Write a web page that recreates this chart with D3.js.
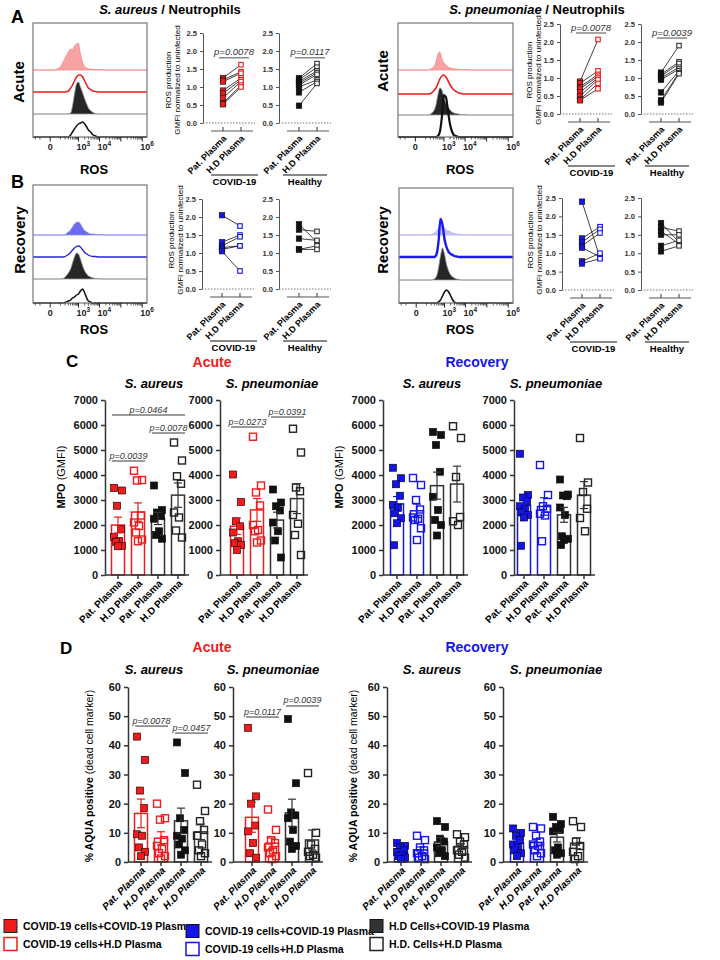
<!DOCTYPE html>
<html><head><meta charset="utf-8">
<script src="https://cdn.jsdelivr.net/npm/d3@7"></script>
<style>body{margin:0;background:#fff}svg{display:block}</style>
</head><body><svg id="chart" width="720" height="960"></svg>
<script>
// ---------------- DATA ----------------
const rosCats = ["Pat. Plasma", "H.D Plasma"];
const rosTicks = [0, 0.5, 1, 1.5, 2, 2.5];
const groupNames = ["COVID-19", "Healthy"];
const barKeys = ["cc", "ch", "hc", "hh"];
const barLabels = ["Pat. Plasma", "H.D Plasma", "Pat. Plasma", "H.D Plasma"];
const mpoTicks = [0, 1000, 2000, 3000, 4000, 5000, 6000, 7000];
const aquaTicks = [0, 10, 20, 30, 40, 50, 60];
const histTicks = [0, 1e3, 1e4, 1e5, 1e6];
const histTickText = ["0", "10^3", "10^4", "", "10^6"];
const histDomain = [-268, 1.67e6];
const histBins = [30, 60, 100, 150, 200, 300, 400, 500, 630, 800, 1000, 1250, 1600, 2000, 2500, 3000, 3800, 5000, 6600, 9000, 12000, 20000];

// histogram counts (top lane -> bottom lane)
const histAcuteAureus = [
  [0,2,6,16,24,36,42,40,48,52,54,32,14,6,4,2,2,1,1,1,1,0],
  [0,0,0,0,0,2,8,14,22,30,34,34,30,22,14,8,5,2,1,0,0,0],
  [0,0,0,0,0,0,2,16,40,60,64,54,42,30,20,12,7,3,1,0,0,0],
  [0,0,0,0,0,0,4,10,16,22,26,28,30,26,20,14,10,4,2,0,0,0]];
const histAcutePneumo = [
  [0,0,0,0,2,6,16,32,36,22,14,10,6,4,3,2,2,1,1,1,1,0],
  [0,0,0,0,1,6,12,20,30,36,38,34,26,18,12,8,5,2,1,0,0,0],
  [0,0,0,0,2,8,20,40,54,50,36,24,16,10,6,4,3,2,1,1,0,0],
  [0,0,0,0,0,0,0,2,10,40,84,80,50,24,10,4,2,0,0,0,0,0]];
const histRecAureus = [
  [0,0,0,0,1,6,10,16,22,25,26,22,14,9,6,4,2,2,1,1,1,0],
  [0,0,0,0,1,5,9,14,18,21,22,20,14,9,6,4,2,1,1,0,0,0],
  [0,0,0,1,4,12,20,32,44,52,50,40,26,16,10,6,4,2,1,1,0,0],
  [0,0,0,0,1,4,6,10,12,16,18,24,28,20,10,4,2,0,0,0,0,0]];
const histRecPneumo = [
  [0,0,0,0,1,4,8,14,20,18,14,10,8,6,4,3,2,1,1,0,0,0],
  [0,0,0,0,0,0,6,30,76,64,36,20,10,6,4,2,1,0,0,0,0,0],
  [0,0,0,0,0,2,8,24,48,64,52,32,18,10,6,4,2,1,0,0,0,0],
  [0,0,0,0,0,0,0,2,6,14,22,26,22,14,6,2,0,0,0,0,0,0]];

// ROS paired values [Pat. Plasma, H.D Plasma]
const rosAcuteAureusCovid = [[1.25,1.62],[1.2,1.42],[1.15,1.38],[0.9,1.25],[0.82,1.2],[0.7,1.15],[0.55,1.05],[0.52,1.0]];
const rosAcuteAureusHealthy = [[1.25,1.65],[1.2,1.55],[1.15,1.45],[1.1,1.4],[1.05,1.35],[1.0,1.2],[0.85,1.15],[0.48,1.1]];
const rosAcutePneumoCovid = [[0.9,2.07],[0.85,1.2],[0.75,1.1],[0.7,1.05],[0.6,1.0],[0.5,0.95],[0.4,0.85],[0.38,0.7]];
const rosAcutePneumoHealthy = [[1.15,1.9],[1.1,1.45],[1.05,1.4],[1.0,1.3],[0.95,1.25],[0.6,1.2],[0.38,1.15],[0.32,1.12]];
const rosRecAureusCovid = [[2.05,1.75],[1.3,1.5],[1.2,1.45],[1.15,1.2],[1.1,1.2],[1.05,0.5]];
const rosRecAureusHealthy = [[1.8,1.3],[1.65,1.6],[1.4,1.35],[1.1,1.2],[1.1,1.1]];
const rosRecPneumoCovid = [[2.4,0.88],[1.4,1.72],[1.3,1.65],[1.2,1.55],[1.15,0.9],[0.78,1.0],[0.72,0.85]];
const rosRecPneumoHealthy = [[1.82,1.3],[1.7,1.6],[1.6,1.25],[1.5,1.5],[1.2,1.35],[1.05,1.2]];

// MPO (GMFI) per group: COVID cells+COVID plasma, COVID cells+HD plasma, HD cells+COVID plasma, HD cells+HD plasma
const mpoAcuteAureus = [
  [3480,3380,2770,1830,1520,1360,1330,1170,1150],
  [4170,3800,3780,2380,2100,1960,1700,1420,1350],
  [3580,2600,2500,2350,2250,1750,1600,1450],
  [5300,4580,3950,3650,2500,2300,1780,1500]];
const mpoAcutePneumo = [
  [4020,2920,2150,1950,1700,1350,1270,1200,1000],
  [5530,3580,3300,2780,2000,1800,1750,1380,1300],
  [3420,2900,2750,2580,2100,1750,1380,700],
  [5850,4900,3500,3350,2400,2050,1600,800]];
const mpoRecAureus = [
  [4290,3870,3630,3170,2800,2690,2470,2270,2070,1190],
  [3880,3600,3000,2620,2300,2250,2200,1870,1400],
  [5720,5600,5200,4130,3130,2600,2200,2000,1580],
  [5950,5480,3920,2320,2150,2000]];
const mpoRecPneumo = [
  [4850,3200,3100,2950,2750,2620,2500,2400,2300,1170],
  [4400,3200,2750,2650,2450,2380,1350],
  [3820,3220,3180,3150,2700,2400,1550,1450,1400,1200],
  [5480,3700,3320,2650,2280,1750]];

// % AQUA positive
const aquaAcuteAureus = [
  [43,35,24.5,18.5,9.5,9,5,3.5,2],
  [20,15,14.5,7.5,5.5,4.5,3,2,1.2],
  [41,30.5,15,11,9,8,6,4,2.5],
  [26.5,17.5,14,11,9,6,4,3,2]];
const aquaAcutePneumo = [
  [46,22.5,20,12.5,10.5,6.5,3,1.5],
  [18,11,7.5,6.5,5,4,3,2,1],
  [49,27,17,16,15,11,7,5.5,4.5],
  [30.5,10,6,4.5,3.5,2.5,2,1.5]];
const aquaRecAureus = [
  [6.5,5.5,5,4,3.5,2.5,2,1.5,1],
  [9,7.5,5,4,3,2,1.5,1],
  [14,12,8,7,5,4,3,2],
  [9.5,8.5,7,6,4,3.5,2.5,1.5]];
const aquaRecPneumo = [
  [11.5,10,9,7.5,6,5,4,3,2],
  [12,11.5,9,7,6,5.5,4,3,2],
  [15.5,13,12,11,10.5,5,4,3,2.5],
  [14,12,7,5.5,3.5,2,1]];

// p-values [from group, to group, y value, label]
const pMpoAcuteAureus = [[0,1,4560,"p=0.0039"],[0,3,6400,"p=0.0464"],[2,3,5680,"p=0.0078"]];
const pMpoAcutePneumo = [[0,1,5920,"p=0.0273"],[2,3,6320,"p=0.0391"]];
const pAquaAcuteAureus = [[0,1,46.6,"p=0.0078"],[2,3,44.2,"p=0.0457"]];
const pAquaAcutePneumo = [[0,1,49.7,"p=0.0117"],[2,3,53.5,"p=0.0039"]];

const legendLabels = ["COVID-19 cells+COVID-19 Plasma","COVID-19 cells+H.D Plasma",
  "COVID-19 cells+COVID-19 Plasma","COVID-19 cells+H.D Plasma",
  "H.D Cells+COVID-19 Plasma","H.D. Cells+H.D Plasma"];

// ---------------- STYLE ----------------
const FONT = '"Liberation Sans", Arial, Helvetica, sans-serif';
const RED = "#ee1c1c", BLUE = "#1515e8";
const svg = d3.select("#chart").attr("font-family", FONT);

function text(x, y, s, o = {}) {
  const t = svg.append("text").attr("x", x).attr("y", y).text(s)
    .attr("font-size", o.size || 10).attr("font-weight", o.weight || "bold")
    .attr("text-anchor", o.anchor || "start").attr("fill", o.color || "#000");
  if (o.italic) t.attr("font-style", "italic");
  if (o.rotate) t.attr("transform", `rotate(${o.rotate},${x},${y})`);
  return t;
}
function mixed(x, y, parts, size, o = {}) {
  const t = svg.append("text").attr("x", x).attr("y", y).attr("font-size", size)
    .attr("text-anchor", o.anchor || "middle").attr("fill", o.color || "#000");
  parts.forEach(p => t.append("tspan").text(p.t).attr("font-style", p.i ? "italic" : "normal")
    .attr("font-weight", p.n ? "normal" : "bold"));
  if (o.rotate) t.attr("transform", `rotate(${o.rotate},${x},${y})`);
  return t;
}
function rotLabel(x, y, s, size, italic) {
  svg.append("text").attr("transform", `translate(${x},${y}) rotate(-45)`)
    .attr("text-anchor", "end").attr("font-size", size).attr("font-weight", "bold")
    .attr("font-style", italic ? "italic" : "normal").text(s);
}
function styleAxis(ax, fs, col, sw) {
  ax.attr("font-family", FONT);
  ax.select(".domain").attr("stroke", col).attr("stroke-width", sw);
  ax.selectAll(".tick line").attr("stroke", col).attr("stroke-width", sw);
  ax.selectAll(".tick text").attr("font-size", fs).attr("font-weight", "bold").attr("fill", "#111");
}

// ---------------- HISTOGRAMS ----------------
function histPanel(x0, x1, top, bottom, baselines, counts, styles) {
  const xs = d3.scaleSymlog().constant(50).domain(histDomain).range([x0, x1]);
  const g = svg.append("g");
  counts.forEach((c, i) => {
    const ys = d3.scaleLinear().domain([0, 100]).range([baselines[i], baselines[i] - 50]);
    const pts = [[histDomain[0], 0]].concat(histBins.map((b, j) => [b, c[j]]), [[histDomain[1], 0]]);
    const st = styles[i];
    const curve = st.jag ? d3.curveLinear : d3.curveMonotoneX;
    if (st.fill) {
      g.append("path").attr("d", d3.area().x(d => xs(d[0])).y0(ys(0)).y1(d => ys(d[1])).curve(curve)(pts))
        .attr("fill", st.fill).attr("stroke", st.stroke).attr("stroke-width", st.sw);
    } else {
      g.append("path").attr("d", d3.line().x(d => xs(d[0])).y(d => ys(d[1])).curve(curve)(pts))
        .attr("fill", "none").attr("stroke", st.stroke).attr("stroke-width", st.sw);
    }
  });
  g.append("rect").attr("x", x0).attr("y", top).attr("width", x1 - x0).attr("height", bottom - top)
    .attr("fill", "none").attr("stroke", "#777").attr("stroke-width", 1.2);
  const minor = [-200, -100, 100, 200, 300, 400, 500, 600, 700, 800, 900]
    .concat(...[3, 4, 5].map(e => d3.range(2, 10).map(k => k * Math.pow(10, e))));
  minor.forEach(v => g.append("line").attr("x1", xs(v)).attr("x2", xs(v)).attr("y1", bottom).attr("y2", bottom + 2.5)
    .attr("stroke", "#333").attr("stroke-width", 0.8));
  histTicks.forEach((v, i) => {
    g.append("line").attr("x1", xs(v)).attr("x2", xs(v)).attr("y1", bottom).attr("y2", bottom + 4.5)
      .attr("stroke", "#222").attr("stroke-width", 1);
    const lab = histTickText[i];
    if (!lab) return;
    if (lab.includes("^")) {
      const [b, e] = lab.split("^");
      const t = g.append("text").attr("x", xs(v) - 2).attr("y", bottom + 13).attr("font-size", 9)
        .attr("font-weight", "bold").attr("fill", "#222");
      t.append("tspan").text(b);
      t.append("tspan").text(e).attr("font-size", 6.5).attr("dy", -4);
    } else {
      g.append("text").attr("x", xs(v)).attr("y", bottom + 13).attr("font-size", 9).attr("font-weight", "bold")
        .attr("text-anchor", "middle").attr("fill", "#222").text(lab);
    }
  });
}
const stAcuteL = [{fill:"#f7a3a3",stroke:"#f28c8c",sw:0.8,jag:true},{stroke:RED,sw:1.5},{fill:"#262626",stroke:"#999",sw:0.8},{stroke:"#111",sw:1.5}];
const stAcuteR = [{fill:"#f7a3a3",stroke:"#f28c8c",sw:0.8},{stroke:RED,sw:1.6},{fill:"#262626",stroke:"#999",sw:0.8},{stroke:"#111",sw:2.2}];
const stRecL = [{fill:"#6b6bef",stroke:"#8a8af0",sw:0.8},{stroke:"#2222dd",sw:1.3},{fill:"#262626",stroke:"#999",sw:0.8},{stroke:"#111",sw:1.5}];
const stRecR = [{fill:"#c3c3f4",stroke:"#b0b0ee",sw:0.8},{stroke:"#1a1aee",sw:2.4},{fill:"#262626",stroke:"#999",sw:0.8},{stroke:"#111",sw:1.6}];

histPanel(33, 147, 23, 137, [70, 92, 114, 137], histAcuteAureus, stAcuteL);
histPanel(398, 513, 23, 137, [70, 94, 115, 137], histAcutePneumo, stAcuteR);
histPanel(33, 147, 185, 303, [235, 257, 279, 303], histRecAureus, stRecL);
histPanel(399, 513, 188, 303, [235, 257, 280, 303], histRecPneumo, stRecR);

// ---------------- ROS PAIRED PLOTS ----------------
function rosPlot(axisX, y0, y25, pairs, col, pv) {
  const ys = d3.scaleLinear().domain([0, 2.5]).range([y0, y25]);
  const xs = d3.scalePoint().domain(rosCats).range([axisX + 20, axisX + 38]);
  const catY = y0 + 8;
  const ax = svg.append("g").attr("transform", `translate(${axisX},0)`)
    .call(d3.axisLeft(ys).tickValues(rosTicks).tickFormat(d3.format(".1f")).tickSize(3).tickSizeOuter(0));
  styleAxis(ax, 7.5, "#555", 1);
  ax.selectAll(".tick text").attr("fill", "#333");
  svg.append("line").attr("x1", axisX).attr("x2", axisX + 52).attr("y1", ys(0)).attr("y2", ys(0))
    .attr("stroke", "#777").attr("stroke-width", 1).attr("stroke-dasharray", "1.5,1.5");
  svg.append("line").attr("x1", axisX + 8).attr("x2", axisX + 50).attr("y1", catY).attr("y2", catY)
    .attr("stroke", "#555").attr("stroke-width", 1.2);
  rosCats.forEach(c => svg.append("line").attr("x1", xs(c)).attr("x2", xs(c)).attr("y1", catY - 4).attr("y2", catY)
    .attr("stroke", "#555").attr("stroke-width", 1.2));
  pairs.forEach(p => svg.append("line").attr("x1", xs(rosCats[0])).attr("x2", xs(rosCats[1]))
    .attr("y1", ys(p[0])).attr("y2", ys(p[1])).attr("stroke", "#111").attr("stroke-width", 0.8));
  const s = 5.5;
  pairs.forEach(p => svg.append("rect").attr("x", xs(rosCats[0]) - s / 2).attr("y", ys(p[0]) - s / 2)
    .attr("width", s).attr("height", s).attr("fill", col).attr("stroke", "#111").attr("stroke-width", 0.6));
  pairs.forEach(p => svg.append("rect").attr("x", xs(rosCats[1]) - s / 2 + 0.5).attr("y", ys(p[1]) - s / 2 + 0.5)
    .attr("width", s - 1).attr("height", s - 1).attr("fill", "#fff").attr("stroke", col === "#111" ? "#333" : col).attr("stroke-width", 1.1));
  rosCats.forEach(c => rotLabel(xs(c) + 4, catY + 8, c, 9, false));
  if (pv) {
    const x1 = xs(rosCats[0]) - 4, x2 = xs(rosCats[1]) + 8;
    svg.append("line").attr("x1", x1).attr("x2", x2).attr("y1", ys(pv[0])).attr("y2", ys(pv[0]))
      .attr("stroke", "#222").attr("stroke-width", 0.8);
    text((x1 + x2) / 2, ys(pv[0]) - 2.5, pv[1], {size: 9.5, weight: "normal", italic: true, anchor: "middle", color: "#333"});
  }
  return catY;
}
function groupLabel(x1, x2, y, s) {
  svg.append("line").attr("x1", x1).attr("x2", x2).attr("y1", y).attr("y2", y).attr("stroke", "#111").attr("stroke-width", 1.2);
  text((x1 + x2) / 2, y + 10, s, {size: 9.5, anchor: "middle"});
}
function rosPair(ax1, ax2, y0, y25, covid, healthy, col, pv1, pv2, ylabX, ylabY) {
  const cy = rosPlot(ax1, y0, y25, covid, col, pv1);
  rosPlot(ax2, y0, y25, healthy, "#111", pv2);
  groupLabel(ax1 + 8, ax1 + 55, cy + 44, groupNames[0]);
  groupLabel(ax2 + 4, ax2 + 48, cy + 44, groupNames[1]);
  text(ylabX, ylabY, "ROS production", {size: 8, anchor: "middle", rotate: -90, weight: "normal"});
  text(ylabX + 9, ylabY, "GMFI normalized to uninfected", {size: 8, anchor: "middle", rotate: -90, weight: "normal"});
}
rosPair(203, 279, 123, 33, rosAcuteAureusCovid, rosAcuteAureusHealthy, RED, [1.81, "p=0.0078"], [1.81, "p=0.0117"], 171, 80);
rosPair(560, 641, 114, 24, rosAcutePneumoCovid, rosAcutePneumoHealthy, RED, [2.25, "p=0.0078"], [2.11, "p=0.0039"], 532, 70);
rosPair(202, 279, 289, 199, rosRecAureusCovid, rosRecAureusHealthy, BLUE, null, null, 174, 240);
rosPair(562, 641, 290, 198, rosRecPneumoCovid, rosRecPneumoHealthy, BLUE, null, null, 533, 240);

// ---------------- TITLES (A/B) ----------------
mixed(170, 14, [{t: "S. aureus", i: true}, {t: " / Neutrophils"}], 13);
mixed(537, 14, [{t: "S. pneumoniae", i: true}, {t: " / Neutrophils"}], 13);
text(11, 23, "A", {size: 18});
text(11, 188, "B", {size: 18});
text(24, 82, "Acute", {size: 15, anchor: "middle", rotate: -90});
text(388, 71, "Acute", {size: 15, anchor: "middle", rotate: -90});
text(25, 240, "Recovery", {size: 15, anchor: "middle", rotate: -90});
text(388, 240, "Recovery", {size: 15, anchor: "middle", rotate: -90});
text(94, 174, "ROS", {size: 13, anchor: "middle"});
text(460, 174, "ROS", {size: 13, anchor: "middle"});
text(94, 334, "ROS", {size: 13, anchor: "middle"});
text(460, 334, "ROS", {size: 13, anchor: "middle"});

// ---------------- BAR PLOTS (C/D) ----------------
const palAcute = {stroke: [RED, RED, "#333", "#333"], fill: [RED, "#fff", "#111", "#fff"], ptStroke: ["#3a0000", RED, "#111", "#222"]};
const palRec = {stroke: [BLUE, BLUE, "#333", "#333"], fill: [BLUE, "#fff", "#111", "#fff"], ptStroke: ["#000033", BLUE, "#111", "#222"]};
const jitter = [-4, 4, -1, 3, -4, 1, -2, 4, 0, -3];

function barPlot(axisX, bx0, ys, ticks, groups, pal, italicLabels, pvals) {
  const xs = d3.scalePoint().domain(barKeys).range([bx0, bx0 + 60]);
  const base = ys(0), bw = 13, s = 7;
  groups.forEach((vals, i) => {
    const x = xs(barKeys[i]);
    const m = d3.mean(vals);
    svg.append("rect").attr("x", x - bw / 2).attr("y", ys(m)).attr("width", bw).attr("height", base - ys(m))
      .attr("fill", "#fff").attr("stroke", pal.stroke[i]).attr("stroke-width", 1.5);
  });
  groups.forEach((vals, i) => {
    const x = xs(barKeys[i]);
    vals.forEach((v, j) => {
      const open = pal.fill[i] === "#fff";
      svg.append("rect").attr("x", x + jitter[j % jitter.length] - s / 2).attr("y", ys(v) - s / 2)
        .attr("width", s).attr("height", s).attr("fill", open ? "none" : pal.fill[i])
        .attr("stroke", pal.ptStroke[i]).attr("stroke-width", open ? 1.4 : 0.7);
    });
  });
  groups.forEach((vals, i) => {
    const x = xs(barKeys[i]);
    const m = d3.mean(vals), se = d3.deviation(vals) / Math.sqrt(vals.length);
    const g = svg.append("g").attr("stroke", pal.stroke[i]).attr("stroke-width", 1.2);
    g.append("line").attr("x1", x).attr("x2", x).attr("y1", ys(m - se)).attr("y2", ys(m + se));
    g.append("line").attr("x1", x - 4).attr("x2", x + 4).attr("y1", ys(m + se)).attr("y2", ys(m + se));
    g.append("line").attr("x1", x - 4).attr("x2", x + 4).attr("y1", ys(m - se)).attr("y2", ys(m - se));
  });
  const ax = svg.append("g").attr("transform", `translate(${axisX},0)`)
    .call(d3.axisLeft(ys).tickValues(ticks).tickFormat(d3.format("d")).tickSize(4).tickSizeOuter(0));
  styleAxis(ax, 11, "#333", 1.5);
  svg.append("line").attr("x1", axisX).attr("x2", xs(barKeys[3]) + 11).attr("y1", base).attr("y2", base)
    .attr("stroke", "#333").attr("stroke-width", 1.5);
  barKeys.forEach((k, i) => {
    svg.append("line").attr("x1", xs(k)).attr("x2", xs(k)).attr("y1", base).attr("y2", base + 4)
      .attr("stroke", "#333").attr("stroke-width", 1.5);
    rotLabel(xs(k) + 5, base + 9, barLabels[i], 10, italicLabels);
  });
  (pvals || []).forEach(p => {
    const x1 = xs(barKeys[p[0]]) - 6, x2 = xs(barKeys[p[1]]) + 7;
    svg.append("line").attr("x1", x1).attr("x2", x2).attr("y1", ys(p[2])).attr("y2", ys(p[2]))
      .attr("stroke", "#222").attr("stroke-width", 0.9);
    text((x1 + x2) / 2, ys(p[2]) - 2.5, p[3], {size: 9, weight: "normal", italic: true, anchor: "middle", color: "#333"});
  });
}
const yMpo = d3.scaleLinear().domain([0, 7000]).range([575, 400]);
const yAqua = d3.scaleLinear().domain([0, 60]).range([862, 687]);

barPlot(105, 118, yMpo, mpoTicks, mpoAcuteAureus, palAcute, false, pMpoAcuteAureus);
barPlot(220, 237, yMpo, mpoTicks, mpoAcutePneumo, palAcute, false, pMpoAcutePneumo);
barPlot(383, 397, yMpo, mpoTicks, mpoRecAureus, palRec, false, null);
barPlot(514, 524, yMpo, mpoTicks, mpoRecPneumo, palRec, false, null);

barPlot(128, 141, yAqua, aquaTicks, aquaAcuteAureus, palAcute, true, pAquaAcuteAureus);
barPlot(233, 252, yAqua, aquaTicks, aquaAcutePneumo, palAcute, true, pAquaAcutePneumo);
barPlot(387, 401, yAqua, aquaTicks, aquaRecAureus, palRec, true, null);
barPlot(503, 517, yAqua, aquaTicks, aquaRecPneumo, palRec, true, null);

// C/D labels
text(66, 367, "C", {size: 17});
text(60, 654, "D", {size: 17});
text(212, 367, "Acute", {size: 14, anchor: "middle", color: RED});
text(477, 367, "Recovery", {size: 14, anchor: "middle", color: BLUE});
text(212, 652, "Acute", {size: 14, anchor: "middle", color: RED});
text(477, 652, "Recovery", {size: 14, anchor: "middle", color: BLUE});
[[154, 388, "S. aureus"], [272, 388, "S. pneumoniae"], [432, 388, "S. aureus"], [556, 388, "S. pneumoniae"],
 [154, 674, "S. aureus"], [273, 674, "S. pneumoniae"], [432, 674, "S. aureus"], [556, 674, "S. pneumoniae"]]
  .forEach(d => text(d[0], d[1], d[2], {size: 13, anchor: "middle", italic: true}));
mixed(65, 477, [{t: "MPO"}, {t: " (GMFI)", n: true}], 11, {rotate: -90});
mixed(343, 477, [{t: "MPO"}, {t: " (GMFI)", n: true}], 11, {rotate: -90});
mixed(93, 776, [{t: "% AQUA positive"}, {t: " (dead cell marker)", n: true}], 10.5, {rotate: -90});
mixed(357, 776, [{t: "% AQUA positive"}, {t: " (dead cell marker)", n: true}], 10.5, {rotate: -90});

// ---------------- LEGEND ----------------
const legCols = [4, 186, 370];
const legRows = [[926, 944], [931, 949], [926, 944]];
const legFill = [RED, "#fff", BLUE, "#fff", "#333", "#fff"];
const legStroke = ["#222", RED, "#111", BLUE, "#111", "#222"];
legendLabels.forEach((lab, i) => {
  const c = Math.floor(i / 2), r = i % 2;
  const x = legCols[c], y = legRows[c][r];
  svg.append("rect").attr("x", x).attr("y", y - 6.5).attr("width", 13).attr("height", 13)
    .attr("fill", legFill[i]).attr("stroke", legStroke[i]).attr("stroke-width", legFill[i] === "#fff" ? 1.5 : 1);
  text(x + 19, y + 4, lab, {size: 10.5});
});
</script></body></html>
